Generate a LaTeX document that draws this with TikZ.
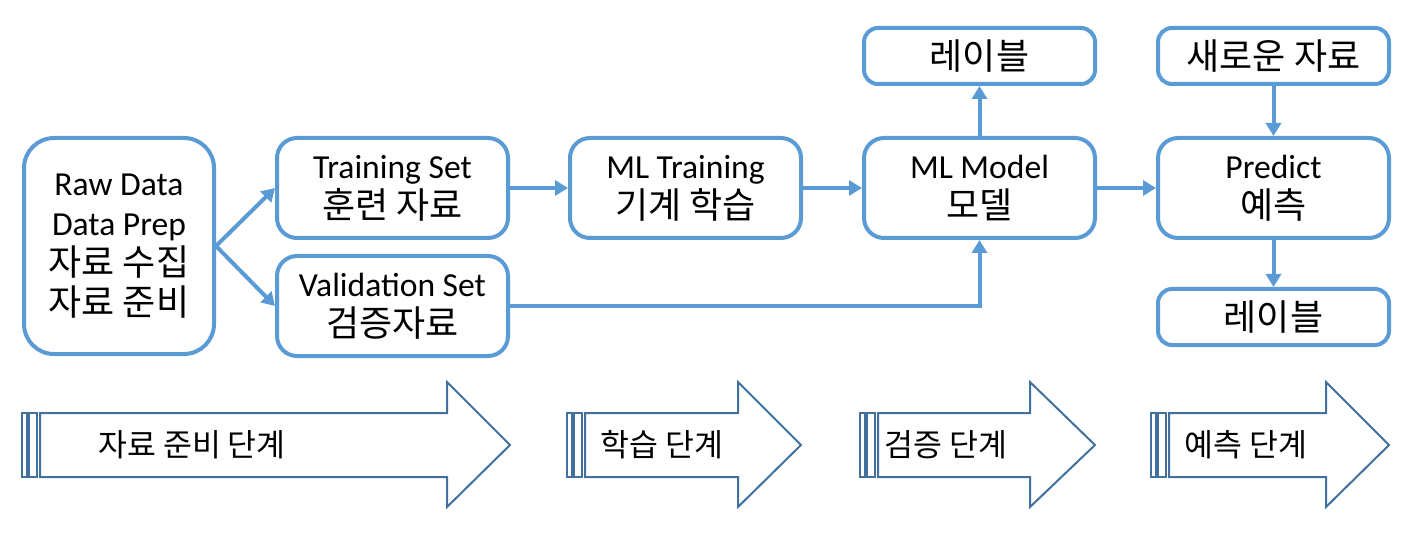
\documentclass[tikz,border=0pt]{standalone}
\usepackage{fontspec}
\setmainfont{Carlito}
\newfontfamily\kr{Noto Sans CJK KR}
\usetikzlibrary{arrows.meta}
\usetikzlibrary{positioning}
\definecolor{boxblue}{HTML}{5B9BD5}
\definecolor{phaseblue}{HTML}{41719C}

\begin{document}
\begin{tikzpicture}[x=0.5pt,y=-0.5pt,
    box/.style={rectangle,rounded corners=10pt,draw=boxblue,line width=2pt,
      fill=white,minimum width=115.5pt,minimum height=50pt,inner sep=0pt,
      align=center,font=\fontsize{16.8}{20}\selectfont},
    small box/.style={box,minimum height=28pt,rounded corners=7pt},
    flow/.style={-{Triangle[length=6.5pt,width=7.5pt]},draw=boxblue,line width=2pt},
    phase/.style={draw=phaseblue,line width=1pt,fill=white}]

  \useasboundingbox (0,0) rectangle (1419,534);

  \node[box,minimum width=95pt,minimum height=108pt,rounded corners=15pt] (raw) at (119,246)
    {Raw Data\\Data Prep\\{\kr\fontsize{18}{20}\selectfont 자료 수집}\\{\kr\fontsize{18}{20}\selectfont 자료 준비}};
  \node[box,anchor=north west] (train) at ([xshift=29.5pt]raw.north east)
    {Training Set\\{\kr\fontsize{18}{20}\selectfont 훈련 자료}};
  \node[box,below=7pt of train] (valid) {Validation Set\\{\kr\fontsize{18}{20}\selectfont 검증자료}};
  \node[box,right=29pt of train] (mltrain) {ML Training\\{\kr\fontsize{18}{20}\selectfont 기계 학습}};
  \node[box,right=29.5pt of mltrain] (model) {ML Model\\{\kr\fontsize{18}{20}\selectfont 모델}};
  \node[box,right=29.5pt of model] (predict) {Predict\\{\kr\fontsize{18}{20}\selectfont 예측}};
  \node[small box,above=25pt of model] (label1) {\kr\fontsize{18}{20}\selectfont 레이블};
  \node[small box,above=25pt of predict] (newdata) {\kr\fontsize{18}{20}\selectfont 새로운 자료};
  \node[small box,below=23.5pt of predict] (label2) {\kr\fontsize{18}{20}\selectfont 레이블};

  \draw[flow] (raw.east) -- (train.west);
  \draw[flow] (raw.east) -- (valid.west);
  \draw[flow] (train) -- (mltrain);
  \draw[flow] (mltrain) -- (model);
  \draw[flow] (model) -- (predict);
  \draw[flow] (valid.east) -| (model.south);
  \draw[flow] (model) -- (label1);
  \draw[flow] (newdata) -- (predict);
  \draw[flow] (predict) -- (label2);

  % phase arrows
  \foreach \xa/\xh/\xt/\xc/\txt/\nm in {22/447/510/192/자료 준비 단계/prep,
      567/738/801/662/학습 단계/learn, 860/1030/1095/946/검증 단계/check,
      1151/1326/1389/1246/예측 단계/guess} {
    \draw[phase] (\xa,413) rectangle ++(5,64);
    \draw[phase] (\xa+7,413) rectangle ++(8,64);
    \draw[phase] (\xa+18,413) -- (\xh,413) -- (\xh,382) -- (\xt,445)
      -- (\xh,507) -- (\xh,477) -- (\xa+18,477) -- cycle;
    \node[font=\kr\fontsize{15.7}{18}\selectfont] (\nm) at (\xc,445) {\txt};
  }
\end{tikzpicture}
\end{document}
